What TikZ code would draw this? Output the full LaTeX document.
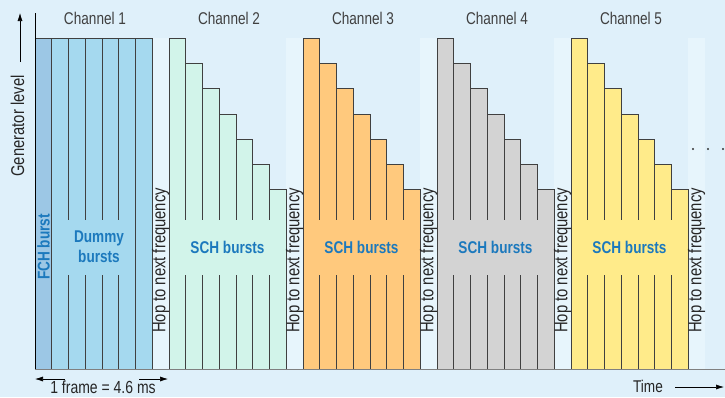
\documentclass[tikz,border=0pt]{standalone}
\usepackage{fontspec}
\setmainfont{Liberation Sans}[FakeStretch=0.8]
\usepackage{tikz}
\usetikzlibrary{arrows.meta}

\definecolor{bgblue}{HTML}{DFF0FA}
\definecolor{hopblue}{HTML}{E7F5FC}
\definecolor{fchblue}{HTML}{9CC7E5}
\definecolor{dummyblue}{HTML}{A5D9EF}
\definecolor{mintfill}{HTML}{D2F4EA}
\definecolor{orangefill}{HTML}{FFC97D}
\definecolor{greyfill}{HTML}{D3D3D3}
\definecolor{yellowfill}{HTML}{FFEB8A}
\definecolor{burstblue}{HTML}{1C79BD}

\begin{document}
\begin{tikzpicture}[x=1pt,y=-1pt,
    slot/.style={draw=black!75,line width=0.7pt},
    chlabel/.style={text=black!75,font=\fontsize{17}{17}\selectfont},
    burstlabel/.style={text=burstblue,font=\fontsize{17}{20}\selectfont\bfseries,align=center,inner sep=0pt},
    hoplabel/.style={rotate=90,anchor=west,inner sep=0pt,text=black!85,font=\fontsize{18.5}{18.5}\selectfont},
    axisline/.style={draw=black!50,line width=0.9pt},
    arr/.style={-{Latex[length=8pt,width=5pt]},line width=0.6pt}]
  \fill[bgblue] (0,0) rectangle (725,397);
  \useasboundingbox (0,0) rectangle (725,397);
  \pgfmathsetmacro\w{117/7}
  % hop gaps
  \foreach \i in {1,...,5}
    \fill[hopblue] ({134*\i+18},38) rectangle ({134*\i+35},369);
  % channel 1: FCH + dummy bursts
  \foreach \k in {0,...,6}
    \draw[slot,fill=dummyblue] ({35+\k*\w},38) rectangle ({35+(\k+1)*\w},369);
  \draw[slot,fill=fchblue] (35,38) rectangle ({35+\w},369);
  \fill[dummyblue] (53,220) rectangle (134.8,275);
  \node[burstlabel] (dummy) at (99,247) {Dummy\\bursts};
  \node[burstlabel,rotate=90] (fch) at (43.5,247) {FCH burst};
  % channels 2-5: SCH bursts
  \foreach \col [count=\c from 1] in {mintfill,orangefill,greyfill,yellowfill}{
    \foreach \k in {0,...,6}
      \draw[slot,fill=\col] ({35+134*\c+\k*\w},{38+25.3*\k}) rectangle ({35+134*\c+(\k+1)*\w},369);
    \fill[\col] ({35+134*\c+1.2},220) rectangle ({35+134*\c+115.8},275);
    \node[burstlabel] (sch\c) at ({35+134*\c+58.5},247) {SCH bursts};
  }
  % channel labels and hops
  \foreach \i in {1,...,5}{
    \node[chlabel] (ch\i) at ({35+134*(\i-1)+60},18) {Channel \i};
    \node[hoplabel] (hop\i) at ({134*\i+26.5},333) {Hop to next frequency};
  }
  % axes
  \coordinate (origin) at (35,369);
  \coordinate (ytop) at (35,13);
  \coordinate (xend) at (725,369);
  \draw[black,line width=0.8pt] (ytop) -- (origin);
  \draw[axisline] (origin) -- (xend);
  % generator level
  \node[hoplabel,anchor=center] (genlevel) at (17.5,126) {Generator level};
  \coordinate (gena) at (20,62);
  \coordinate (genb) at (20,13);
  \draw[arr] (gena) -- (genb);
  % frame length
  \node[inner sep=0pt,text=black!85,font=\fontsize{17.5}{17.5}\selectfont] (frame) at (103,387) {1 frame = 4.6 ms};
  \coordinate (framel) at (35,379);
  \coordinate (framela) at (65,379);
  \coordinate (framer) at (168,379);
  \coordinate (framera) at (139,379);
  \draw[arr] (framela) -- (framel);
  \draw[arr] (framera) -- (framer);
  % time
  \node[text=black!85,font=\fontsize{17}{17}\selectfont] (time) at (648,386) {Time};
  \coordinate (timea) at (675,387);
  \coordinate (timeb) at (724,387);
  \draw[arr] (timea) -- (timeb);
  % more channels
  \foreach \x in {693,708,723}
    \fill[black!80] (\x,149) circle (1.2);
\end{tikzpicture}
\end{document}
